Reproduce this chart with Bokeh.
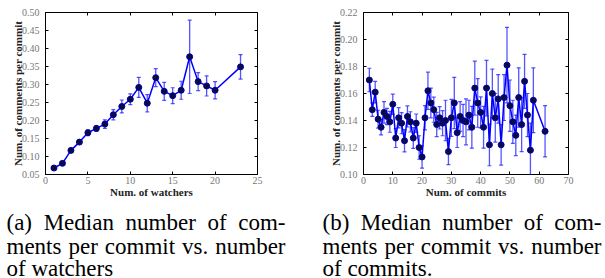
from bokeh.plotting import figure
from bokeh.layouts import column, row
from bokeh.models import (ColumnDataSource, Whisker, TeeHead, LinearAxis, Range1d,
                          SingleIntervalTicker, NumeralTickFormatter, PrintfTickFormatter)
from bokeh.core.properties import value
from bokeh.embed import file_html
from bokeh.resources import INLINE

# ---- data: (a) median comments per commit vs number of watchers
watchers = [1, 2, 3, 4, 5, 6, 7, 8, 9, 10, 11, 12, 13, 14, 15, 16, 17, 18, 19, 20, 23]
cpc_watch = [0.068, 0.081, 0.117, 0.140, 0.166, 0.178, 0.190, 0.216, 0.239, 0.259, 0.292,
             0.248, 0.319, 0.281, 0.269, 0.284, 0.377, 0.308, 0.296, 0.284, 0.349]
err_watch = [0.002, 0.003, 0.004, 0.005, 0.008, 0.008, 0.012, 0.014, 0.018, 0.015, 0.028,
             0.024, 0.025, 0.025, 0.022, 0.025, 0.102, 0.025, 0.028, 0.024, 0.034]

# ---- data: (b) median comments per commit vs number of commits
commits = list(range(2, 59)) + [62]
cpc_commit = [0.170, 0.148, 0.161, 0.141, 0.135, 0.146, 0.143, 0.139, 0.152, 0.127,
              0.142, 0.138, 0.125, 0.143, 0.139, 0.127, 0.138, 0.120, 0.113, 0.142,
              0.162, 0.153, 0.148, 0.137, 0.142, 0.138, 0.140, 0.117, 0.142, 0.153,
              0.131, 0.143, 0.140, 0.139, 0.144, 0.135, 0.164, 0.153, 0.146, 0.135,
              0.164, 0.122, 0.160, 0.142, 0.156, 0.122, 0.157, 0.181, 0.151, 0.139,
              0.129, 0.157, 0.137, 0.169, 0.144, 0.118, 0.155, 0.132]
err_commit = [0.0087, 0.005, 0.008, 0.0066, 0.0057, 0.008, 0.006, 0.0077, 0.0075, 0.007,
              0.0075, 0.0078, 0.0083, 0.0078, 0.0075, 0.0077, 0.0068, 0.0087, 0.0083, 0.009,
              0.0138, 0.011, 0.0093, 0.009, 0.0083, 0.0093, 0.015, 0.0097, 0.0137, 0.019,
              0.011, 0.011, 0.012, 0.017, 0.011, 0.0155, 0.020, 0.018, 0.0115, 0.0155,
              0.0205, 0.0155, 0.018, 0.018, 0.018, 0.015, 0.017, 0.028, 0.019, 0.016,
              0.015, 0.022, 0.020, 0.020, 0.016, 0.020, 0.024, 0.019]

x_label_a = "Num. of watchers"
x_label_b = "Num. of commits"
y_label = "Num. of comments per commit"

caption_a = ["(a) Median number of com-", "ments per commit vs. number", "of watchers"]
caption_b = ["(b) Median number of com-", "ments per commit vs. number", "of commits."]

TICK_FONT = "serif"
CAP_FONT = "Liberation Serif"
CAP_SIZE = 23

# Times / Liberation Serif advance widths (per 1000 em), used only to justify captions
TIMES_W = {'(': 333, ')': 333, 'a': 444, 'b': 500, 'c': 444, 'd': 500, 'e': 444, 'f': 333,
           'h': 500, 'i': 278, 'm': 778, 'n': 500, 'o': 500, 'p': 500, 'r': 333, 's': 389,
           't': 278, 'u': 500, 'v': 500, 'w': 722, '.': 250, '-': 333, 'M': 889}


def make_chart(xs, ys, errs, xr, yr, xint, yint, xlabel, w, bl, br):
    lower = [y - e for y, e in zip(ys, errs)]
    upper = [y + e for y, e in zip(ys, errs)]
    src = ColumnDataSource(dict(x=xs, y=ys, lower=lower, upper=upper))
    p = figure(width=w, height=201, x_range=Range1d(*xr), y_range=Range1d(*yr),
               output_backend="svg", toolbar_location=None,
               min_border_left=bl, min_border_right=br, min_border_top=12, min_border_bottom=27)
    p.grid.visible = False
    p.outline_line_color = "black"
    p.outline_line_width = 1
    p.background_fill_color = "white"

    p.xaxis.ticker = SingleIntervalTicker(interval=xint)
    p.yaxis.ticker = SingleIntervalTicker(interval=yint)
    p.yaxis.formatter = NumeralTickFormatter(format="0.00")
    p.xaxis.axis_label = xlabel
    p.yaxis.axis_label = y_label
    for ax in (p.xaxis[0], p.yaxis[0]):
        ax.axis_line_color = None
        ax.major_tick_in = 3
        ax.major_tick_out = 0
        ax.minor_tick_line_color = None
        ax.major_tick_line_color = "black"
        ax.major_label_text_font = TICK_FONT
        ax.major_label_text_font_size = "10px"
        ax.major_label_text_color = "#777777"
        ax.axis_label_text_font = TICK_FONT
        ax.axis_label_text_font_size = "11px"
        ax.axis_label_text_font_style = "bold"
        ax.axis_label_text_color = "#222222"
    p.xaxis.major_label_standoff = -2
    p.xaxis.axis_label_standoff = -1
    p.yaxis.major_label_standoff = 2
    p.yaxis.axis_label_standoff = -5

    for loc, tick in (("above", xint), ("right", yint)):
        ax = LinearAxis(ticker=SingleIntervalTicker(interval=tick),
                        formatter=PrintfTickFormatter(format=""))
        ax.axis_line_color = None
        ax.major_tick_in = 3
        ax.major_tick_out = 0
        ax.minor_tick_line_color = None
        ax.major_tick_line_color = "black"
        ax.major_label_text_font_size = "1px"
        ax.major_label_standoff = 0
        p.add_layout(ax, loc)

    p.add_layout(Whisker(source=src, base="x", lower="lower", upper="upper",
                         line_color="#2a2aff", line_alpha=0.8, line_width=1.3,
                         upper_head=TeeHead(size=4, line_color="#2a2aff", line_alpha=0.8,
                                            line_width=1.2),
                         lower_head=TeeHead(size=4, line_color="#2a2aff", line_alpha=0.8,
                                            line_width=1.2)))
    p.line("x", "y", source=src, line_color="#0000ff", line_width=1.5)
    p.scatter("x", "y", source=src, size=6, fill_color="#0b0b40", line_color="#0000aa",
              line_width=1)
    return p


p1 = make_chart(watchers, cpc_watch, err_watch, (0, 25), (0.05, 0.50), 5, 0.05,
                x_label_a, 300, 45, 43)
p2 = make_chart(commits, cpc_commit, err_commit, (0, 70), (0.10, 0.22), 10, 0.02,
                x_label_b, 305, 63, 37)

cap = figure(width=605, height=77, x_range=Range1d(0, 605), y_range=Range1d(278, 201),
             output_backend="svg", toolbar_location=None, min_border=0,
             x_axis_type=None, y_axis_type=None)
cap.grid.visible = False
cap.outline_line_color = None


def word_width(word):
    return sum(TIMES_W.get(ch, 500) for ch in word) * CAP_SIZE / 1000.0


def caption_words(lines, x0, width, baselines):
    xs, ys, texts = [], [], []
    for i, (line, yb) in enumerate(zip(lines, baselines)):
        words = line.split(" ")
        if i < len(lines) - 1 and len(words) > 1:
            widths = [word_width(wd) for wd in words]
            gap = (width - sum(widths)) / (len(words) - 1)
            x = x0
            for wd, ww in zip(words, widths):
                xs.append(x)
                ys.append(yb)
                texts.append(wd)
                x += ww + gap
        else:
            xs.append(x0)
            ys.append(yb)
            texts.append(line)
    return xs, ys, texts


baselines = [222, 246, 268]
for lines, x0 in ((caption_a, 6), (caption_b, 322)):
    xs, ys, texts = caption_words(lines, x0, 279, baselines)
    cap.text(x=xs, y=ys, text=texts, text_font=value(CAP_FONT),
             text_font_size=f"{CAP_SIZE}px", text_color="black", text_baseline="alphabetic")

layout = column(row(p1, p2), cap)
open("out.html", "w").write(file_html(layout, INLINE))
